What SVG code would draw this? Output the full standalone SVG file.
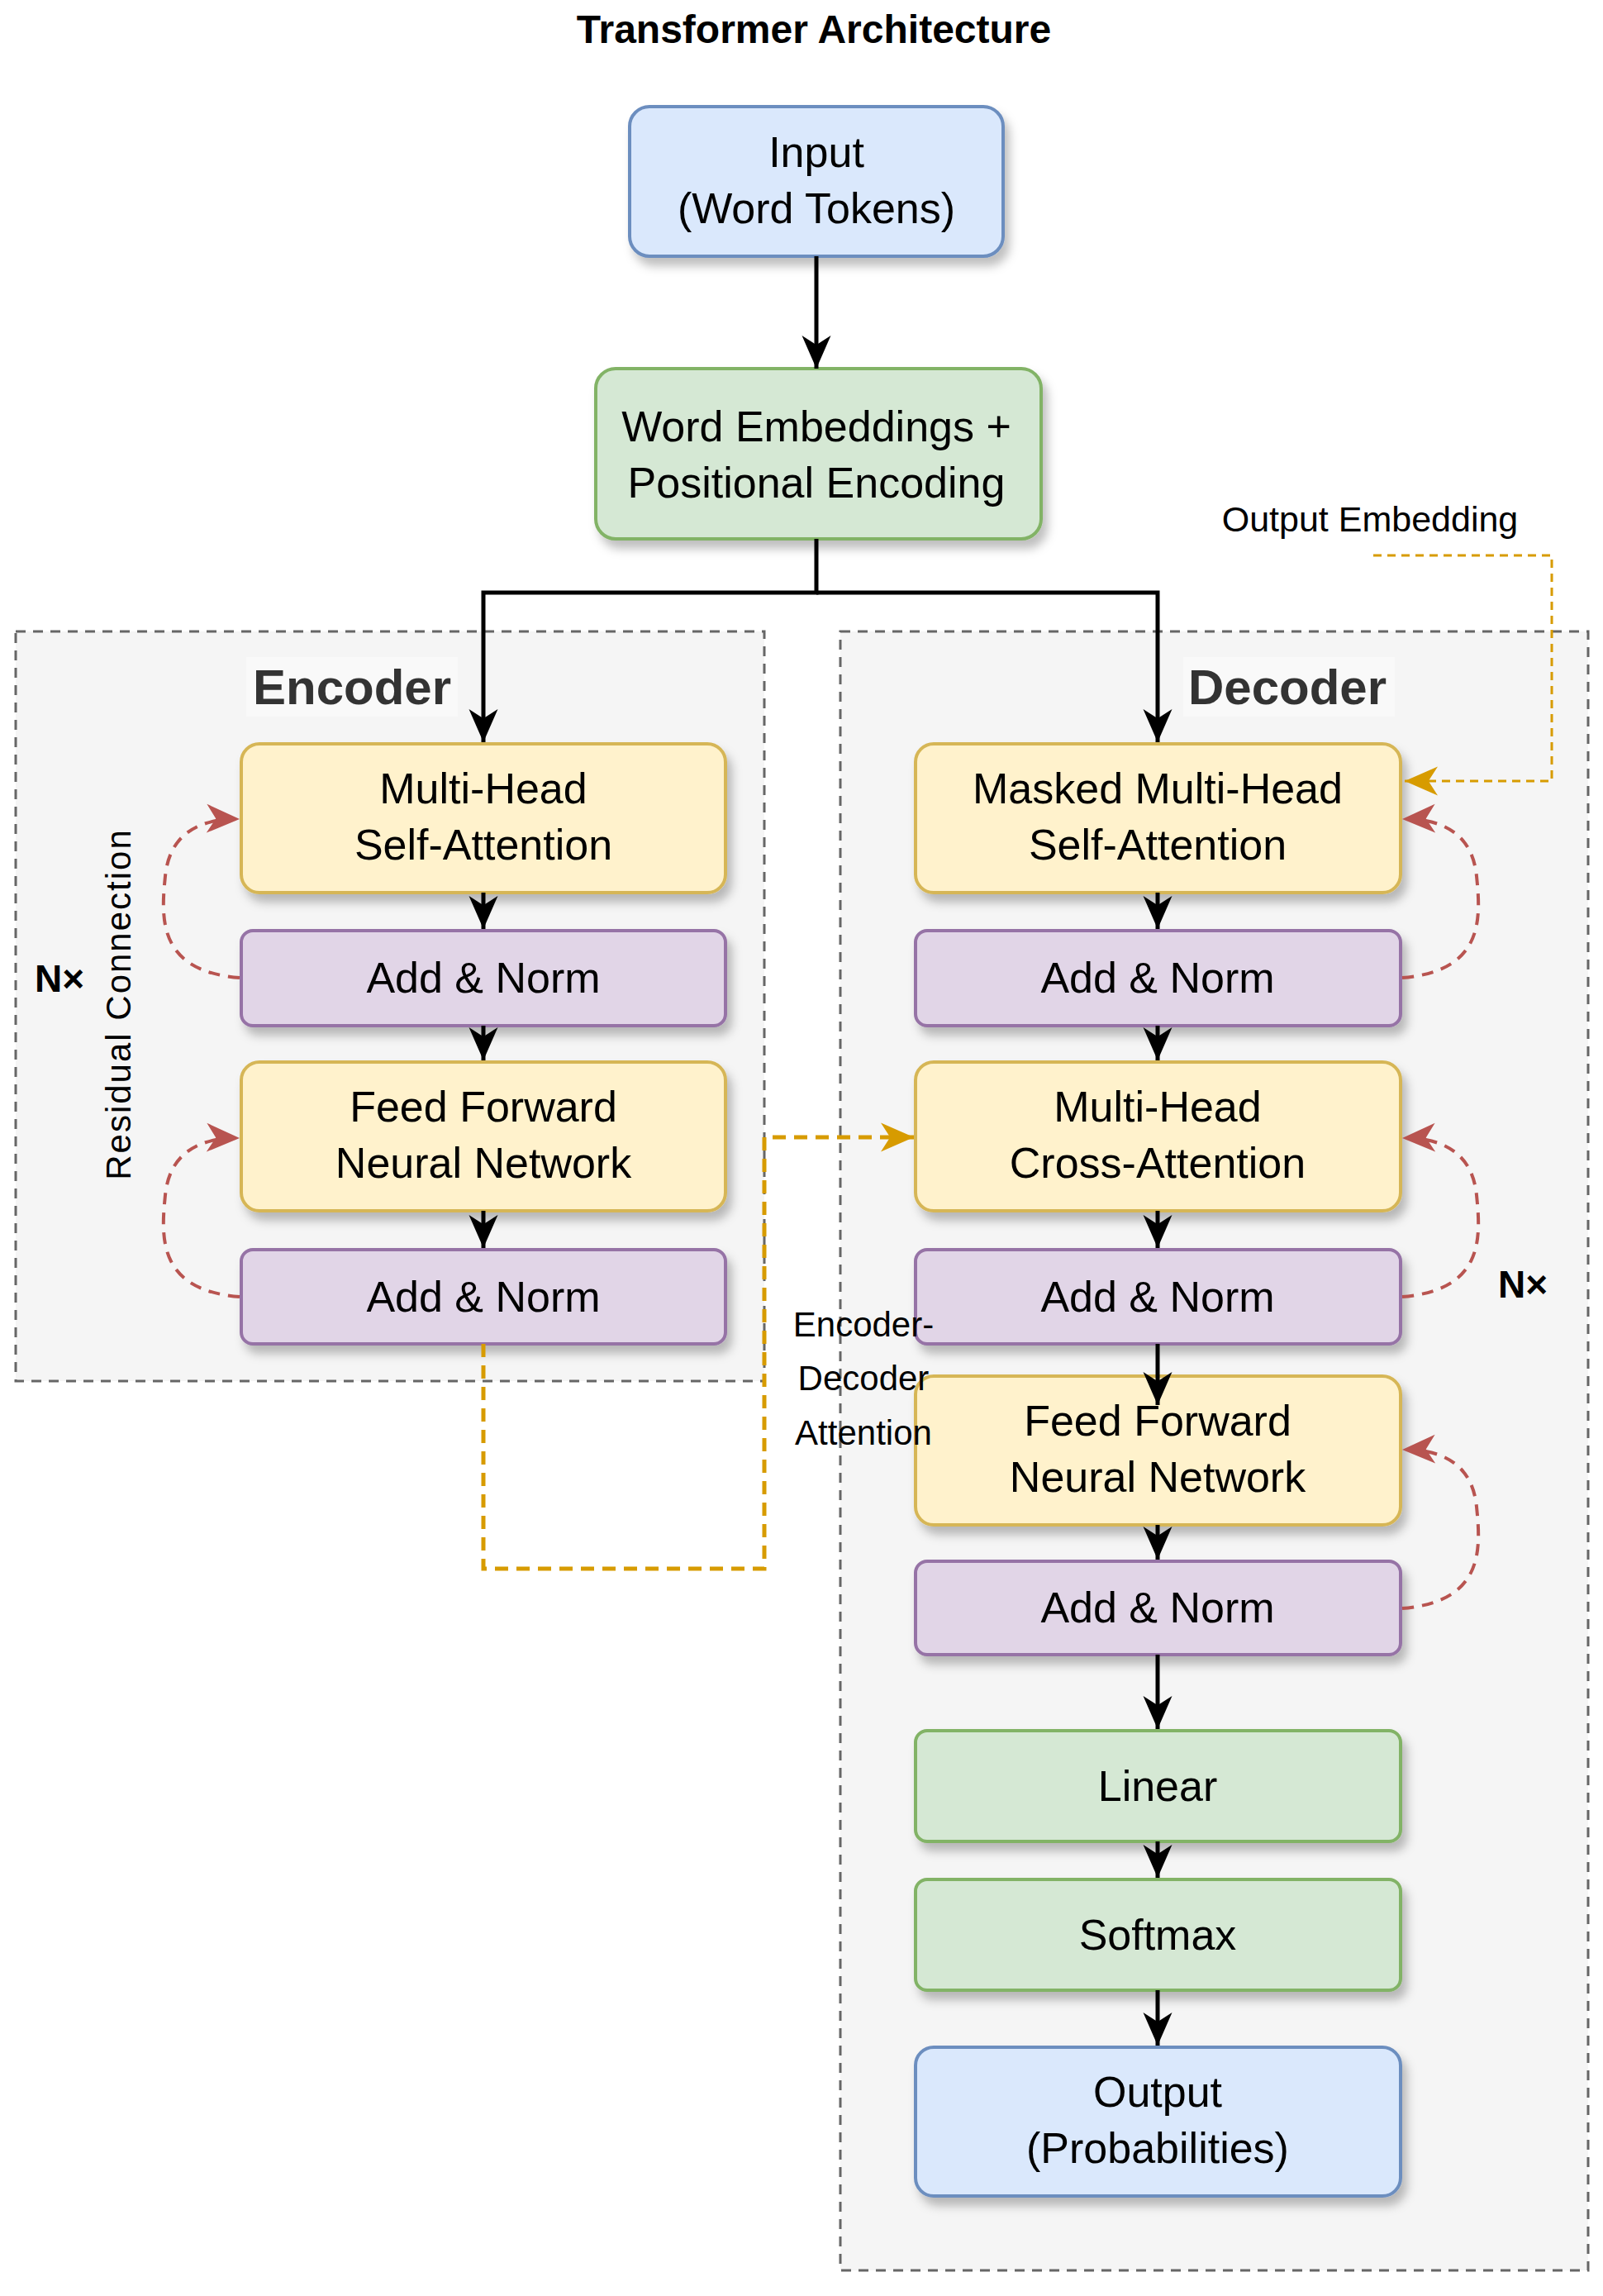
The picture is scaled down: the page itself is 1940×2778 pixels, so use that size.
<svg xmlns="http://www.w3.org/2000/svg" width="1940" height="2778" viewBox="0 0 1940 2778">
<style>
text{font-family:"Liberation Sans",Arial,sans-serif;text-anchor:middle;}
.t{font-size:52px;fill:#000;}
.box{stroke-width:4;filter:url(#sh);}
.blue{fill:#dae8fc;stroke:#6c8ebf;}
.green{fill:#d5e8d4;stroke:#82b366;}
.yellow{fill:#fff2cc;stroke:#d6b656;}
.purple{fill:#e1d5e7;stroke:#9673a6;}
.cont{fill:#f5f5f5;stroke:#666;stroke-width:3;stroke-dasharray:12 9;}
.blk{fill:none;stroke:#000;stroke-width:5;marker-end:url(#ab);}
.res{fill:none;stroke:#b85450;stroke-width:4;stroke-dasharray:14 10;marker-end:url(#ar);}
.org{fill:none;stroke:#d79b00;stroke-width:5;stroke-dasharray:16 10;}
</style>
<defs>
<filter id="sh" x="-10%" y="-10%" width="130%" height="140%"><feDropShadow dx="6" dy="10" stdDeviation="6" flood-color="#000" flood-opacity="0.25"/></filter>
<marker id="ab" markerUnits="userSpaceOnUse" markerWidth="40" markerHeight="40" viewBox="0 0 32 28" refX="32" refY="14" orient="auto"><path d="M0,0 L32,14 L0,28 L9,14 z" fill="#000"/></marker>
<marker id="ar" markerUnits="userSpaceOnUse" markerWidth="40" markerHeight="40" viewBox="0 0 32 28" refX="32" refY="14" orient="auto"><path d="M0,0 L32,14 L0,28 L9,14 z" fill="#b85450"/></marker>
<marker id="ao" markerUnits="userSpaceOnUse" markerWidth="40" markerHeight="40" viewBox="0 0 32 28" refX="32" refY="14" orient="auto"><path d="M0,0 L32,14 L0,28 L9,14 z" fill="#d79b00"/></marker>
</defs>
<rect width="1940" height="2778" fill="#fff"/>
<text x="985" y="52" style="font-size:48px;font-weight:bold">Transformer Architecture</text>
<g id="encoder-container"><rect class="cont" x="19" y="764" width="906" height="907"/>
<rect x="298" y="795" width="256" height="72" fill="#f9f9f9"/>
<text x="426" y="852" style="font-size:60px;font-weight:bold;fill:#333">Encoder</text></g>
<g id="decoder-container"><rect class="cont" x="1017" y="764" width="905" height="1983"/>
<rect x="1432" y="795" width="256" height="72" fill="#f9f9f9"/>
<text x="1558" y="852" style="font-size:60px;font-weight:bold;fill:#333">Decoder</text></g>
<g id="input"><rect class="box blue" x="762" y="129" width="452" height="181" rx="24"/><text class="t" x="988" y="202">Input</text><text class="t" x="988" y="270">(Word Tokens)</text></g>
<g id="embed"><rect class="box green" x="721" y="446" width="539" height="206" rx="24"/><text class="t" x="988" y="534">Word Embeddings +</text><text class="t" x="988" y="602">Positional Encoding</text></g>
<g id="enc-mhsa"><rect class="box yellow" x="292" y="900" width="586" height="180" rx="22"/><text class="t" x="585" y="972">Multi-Head</text><text class="t" x="585" y="1040">Self-Attention</text></g>
<g id="enc-an1"><rect class="box purple" x="292" y="1126" width="586" height="115" rx="14"/><text class="t" x="585" y="1201">Add &amp; Norm</text></g>
<g id="enc-ffn"><rect class="box yellow" x="292" y="1285" width="586" height="180" rx="22"/><text class="t" x="585" y="1357">Feed Forward</text><text class="t" x="585" y="1425">Neural Network</text></g>
<g id="enc-an2"><rect class="box purple" x="292" y="1512" width="586" height="114" rx="14"/><text class="t" x="585" y="1587">Add &amp; Norm</text></g>
<g id="dec-mmhsa"><rect class="box yellow" x="1108" y="900" width="587" height="180" rx="22"/><text class="t" x="1401" y="972">Masked Multi-Head</text><text class="t" x="1401" y="1040">Self-Attention</text></g>
<g id="dec-an1"><rect class="box purple" x="1108" y="1126" width="587" height="115" rx="14"/><text class="t" x="1401" y="1201">Add &amp; Norm</text></g>
<g id="dec-cross"><rect class="box yellow" x="1108" y="1285" width="587" height="180" rx="22"/><text class="t" x="1401" y="1357">Multi-Head</text><text class="t" x="1401" y="1425">Cross-Attention</text></g>
<g id="dec-an2"><rect class="box purple" x="1108" y="1512" width="587" height="114" rx="14"/><text class="t" x="1401" y="1587">Add &amp; Norm</text></g>
<g id="dec-ffn"><rect class="box yellow" x="1108" y="1665" width="587" height="180" rx="22"/><text class="t" x="1401" y="1737">Feed Forward</text><text class="t" x="1401" y="1805">Neural Network</text></g>
<g id="dec-an3"><rect class="box purple" x="1108" y="1889" width="587" height="113" rx="14"/><text class="t" x="1401" y="1963">Add &amp; Norm</text></g>
<g id="linear"><rect class="box green" x="1108" y="2094" width="587" height="134" rx="14"/><text class="t" x="1401" y="2179">Linear</text></g>
<g id="softmax"><rect class="box green" x="1108" y="2274" width="587" height="134" rx="14"/><text class="t" x="1401" y="2359">Softmax</text></g>
<g id="output"><rect class="box blue" x="1108" y="2477" width="587" height="180" rx="22"/><text class="t" x="1401" y="2549">Output</text><text class="t" x="1401" y="2617">(Probabilities)</text></g>
<g id="labels">
<text x="1658" y="643" style="font-size:43px">Output Embedding</text>
<text x="1045" y="1617" style="font-size:42px">Encoder-</text>
<text x="1045" y="1682" style="font-size:42px">Decoder</text>
<text x="1045" y="1748" style="font-size:42px">Attention</text>
<text x="72" y="1200" style="font-size:46px;font-weight:bold">N×</text>
<text x="1843" y="1570" style="font-size:46px;font-weight:bold">N×</text>
<text transform="translate(158,1215) rotate(-90)" style="font-size:42px;letter-spacing:2px">Residual Connection</text>
</g>
<g id="connectors">
<path class="blk" d="M988,310 V446"/>
<path class="blk" d="M988,652 V717 H585 V898"/>
<path class="blk" d="M988,717 H1401 V898"/>
<path class="blk" d="M585,1080 V1124"/>
<path class="blk" d="M585,1241 V1283"/>
<path class="blk" d="M585,1465 V1510"/>
<path class="blk" d="M1401,1080 V1124"/>
<path class="blk" d="M1401,1241 V1283"/>
<path class="blk" d="M1401,1465 V1510"/>
<path class="blk" d="M1401,1626 V1700"/>
<path class="blk" d="M1401,1845 V1887"/>
<path class="blk" d="M1401,2002 V2092"/>
<path class="blk" d="M1401,2228 V2272"/>
<path class="blk" d="M1401,2408 V2475"/>
<path class="res" d="M290,1183 C190,1175 195,1110 200,1060 C205,1010 240,990 290,991"/>
<path class="res" d="M290,1569 C190,1561 195,1496 200,1446 C205,1396 240,1376 290,1377"/>
<path class="res" d="M1697,1183 C1797,1175 1792,1110 1787,1060 C1782,1010 1747,990 1697,991"/>
<path class="res" d="M1697,1569 C1797,1561 1792,1496 1787,1446 C1782,1396 1747,1376 1697,1377"/>
<path class="res" d="M1697,1946 C1797,1938 1792,1873 1787,1823 C1782,1773 1747,1753 1697,1754"/>
<path d="M1662,672 H1878 V945 H1700" fill="none" stroke="#d79b00" stroke-width="3" stroke-dasharray="10 7" marker-end="url(#ao)"/>
<path class="org" d="M585,1626 V1898 H925 V1376 H1106" marker-end="url(#ao)"/>
</g>
</svg>
